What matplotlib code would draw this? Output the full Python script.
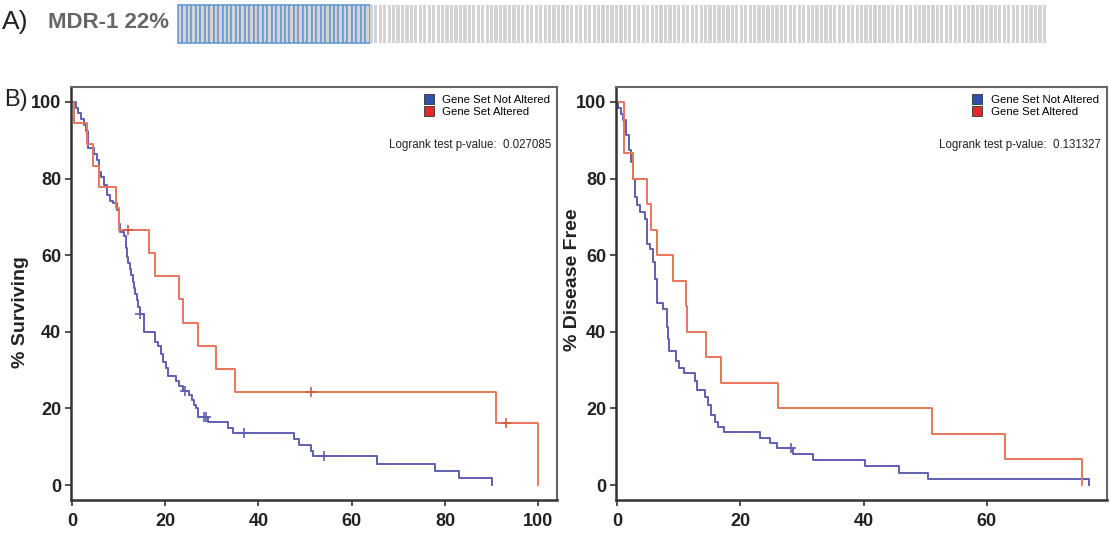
import numpy as np
import matplotlib
matplotlib.use("Agg")
import matplotlib.pyplot as plt
from matplotlib.lines import Line2D

plt.rcParams["font.family"] = ["Liberation Sans", "DejaVu Sans"]

# oncoprint strip
n_samples = 195
n_altered = 43
gene_label = "MDR-1 22%"

# overall survival (left), step times / survival levels
os_unalt_t = [0, 0.8, 1.4, 2.0, 2.6, 3.1, 3.5, 4.7, 5.4, 5.9, 6.2, 6.9, 7.6, 8.2, 8.7,
              9.6, 10.0, 10.2, 11.2, 11.5, 11.8, 12.1, 12.4, 12.7, 13.0, 13.3, 13.6,
              13.9, 14.2, 14.5, 15.4, 17.8, 18.5, 19.0, 19.6, 20.1, 20.7, 22.3, 22.9,
              23.8, 25.0, 25.8, 26.2, 26.5, 27.0, 29.1, 33.5, 34.6, 47.6, 48.6, 51.2,
              51.6, 65.4, 77.9, 83.0, 90.1]
os_unalt_s = [100, 98.5, 97.0, 95.5, 93.9, 92.4, 87.9, 86.4, 84.8, 81.8, 80.3, 78.3,
              75.8, 74.2, 73.5, 71.8, 68.2, 66.1, 65.0, 62.0, 59.4, 57.9, 56.3, 54.7,
              53.0, 51.4, 49.8, 48.2, 46.5, 44.6, 39.9, 37.4, 36.4, 34.3, 32.2, 30.5,
              28.5, 27.2, 25.9, 24.6, 23.5, 22.2, 21.0, 20.0, 17.8, 16.5, 15.0, 13.5,
              12.0, 10.5, 9.0, 7.5, 5.6, 3.8, 1.9, 0]
os_unalt_cens_t = [14.7, 24.2, 28.3, 28.8, 36.9, 54.0]
os_unalt_cens_s = [44.6, 24.6, 17.8, 17.8, 13.5, 7.5]

os_alt_t = [0, 0.5, 3.3, 4.6, 5.9, 9.4, 10.0, 16.6, 17.9, 23.0, 23.8, 27.0, 30.8,
            35.0, 91.0, 100.0]
os_alt_s = [100, 94.4, 88.9, 83.3, 77.8, 72.2, 66.7, 60.6, 54.5, 48.5, 42.4, 36.4,
            30.3, 24.2, 16.2, 0]
os_alt_cens_t = [12.0, 51.3, 93.0]
os_alt_cens_s = [66.7, 24.2, 16.2]

# disease free (right)
dfs_unalt_t = [0, 0.1, 0.6, 0.95, 1.5, 1.9, 2.2, 2.6, 2.85, 3.2, 3.65, 4.5, 4.85, 5.3,
               5.8, 6.2, 6.5, 7.5, 8.0, 8.1, 8.3, 8.4, 9.6, 10.1, 10.8, 12.6, 12.9,
               14.2, 14.7, 15.3, 15.9, 16.3, 17.3, 23.2, 24.8, 25.9, 28.5, 31.8, 40.2,
               45.8, 50.5, 76.6]
dfs_unalt_s = [100, 98.4, 96.8, 95.2, 91.4, 87.5, 84.4, 80.0, 75.2, 73.0, 71.3, 69.5,
               63.0, 61.6, 58.1, 53.8, 47.6, 46.0, 44.4, 41.3, 38.1, 34.9, 32.3, 30.6,
               29.2, 27.1, 24.9, 23.1, 20.9, 18.3, 16.5, 15.2, 13.9, 12.3, 10.9, 9.7,
               8.1, 6.5, 4.9, 3.2, 1.6, 0]
dfs_unalt_cens_t = [28.2]
dfs_unalt_cens_s = [9.7]

dfs_alt_t = [0, 1.1, 2.5, 4.85, 5.45, 6.4, 9.1, 11.2, 11.4, 14.4, 16.8, 26.1, 51.1,
             63.0, 75.4]
dfs_alt_s = [100, 86.7, 80.0, 73.3, 66.7, 60.0, 53.3, 46.7, 40.0, 33.3, 26.7, 20.0,
             13.3, 6.7, 0]

blue = "#5f5fb0"
red = "#e8765a"
W, H = 1110, 537

fig = plt.figure(figsize=(W / 100, H / 100), dpi=100)

# ---- A) oncoprint row
ax0 = fig.add_axes([178 / W, 1 - 43 / H, 868 / W, 38 / H])
idx = np.arange(n_samples)
ax0.bar(idx[:n_altered], 1, width=1.0, align="edge", color="#d3d3d3",
        edgecolor="#6b9bd2", linewidth=1.2, clip_on=False)
ax0.bar(idx[n_altered:], 1, width=0.72, align="edge", color="#d3d3d3",
        linewidth=0)
ax0.set_xlim(0, n_samples - 0.28)
ax0.set_ylim(0, 1)
ax0.axis("off")

fig.text(2 / W, 1 - 22 / H, "A)", fontsize=19, color="#222222", va="center")
fig.text(48 / W, 1 - 23 / H, gene_label, fontsize=16, fontweight="bold",
         color="#666666", va="center")
fig.text(4 / W, 1 - 100 / H, "B)", fontsize=17, color="#222222", va="center")


def km_panel(rect, curves, censors, xmax, xticks, ylabel, ylab_x, ylab_y, pval):
    ax = fig.add_axes(rect)
    for t, s, c in curves:
        ax.step(t, s, where="post", color=c, lw=1.4)
    for t, s, c in censors:
        ax.plot(t, s, "+", color=c, ms=7, mew=1.2)
    ax.set_xlim(-0.2, xmax)
    ax.set_ylim(-3.9, 103.9)
    ax.set_yticks([0, 20, 40, 60, 80, 100])
    ax.set_xticks(xticks)
    ax.tick_params(direction="out", length=4, width=1.2, color="#333333",
                   labelsize=13, pad=3, labelcolor="#222222")
    ax.tick_params(axis="x", pad=5)
    for lab in ax.get_xticklabels() + ax.get_yticklabels():
        lab.set_fontweight("bold")
    for side in ["left", "bottom"]:
        ax.spines[side].set_color("#333333")
        ax.spines[side].set_linewidth(1.8)
    for side in ["top", "right"]:
        ax.spines[side].set_color("#666666")
        ax.spines[side].set_linewidth(1.5)
    fig.text(ylab_x, 1 - ylab_y / H, ylabel, rotation=90, fontsize=14,
             fontweight="bold", color="#222222", ha="center", va="center")
    handles = [Line2D([], [], ls="none", marker="s", ms=6.5, mfc="#2f4fa8", mec="#333333", mew=0.6),
               Line2D([], [], ls="none", marker="s", ms=6.5, mfc="#e02a2a", mec="#333333", mew=0.6)]
    ax.legend(handles, ["Gene Set Not Altered", "Gene Set Altered"],
              loc="upper left", bbox_to_anchor=(0.71, 1.0), frameon=False,
              fontsize=8.2, handlelength=0.8, handletextpad=0.8, labelspacing=0.15,
              borderaxespad=0.3)
    ax.text(0.988, 0.86, "Logrank test p-value:  " + pval, transform=ax.transAxes,
            fontsize=8.3, ha="right", va="center", color="#222222")
    return ax


km_panel([71 / W, 1 - 500 / H, 486 / W, 413 / H],
         [(os_unalt_t, os_unalt_s, blue), (os_alt_t, os_alt_s, red)],
         [(os_unalt_cens_t, os_unalt_cens_s, blue), (os_alt_cens_t, os_alt_cens_s, "#d05a40")],
         104, [0, 20, 40, 60, 80, 100], "% Surviving", 21 / W, 312, "0.027085")

km_panel([616 / W, 1 - 500 / H, 491 / W, 413 / H],
         [(dfs_unalt_t, dfs_unalt_s, blue), (dfs_alt_t, dfs_alt_s, red)],
         [(dfs_unalt_cens_t, dfs_unalt_cens_s, blue)],
         79.5, [0, 20, 40, 60], "% Disease Free", 573 / W, 280, "0.131327")

fig.savefig("out.png", dpi=100)
